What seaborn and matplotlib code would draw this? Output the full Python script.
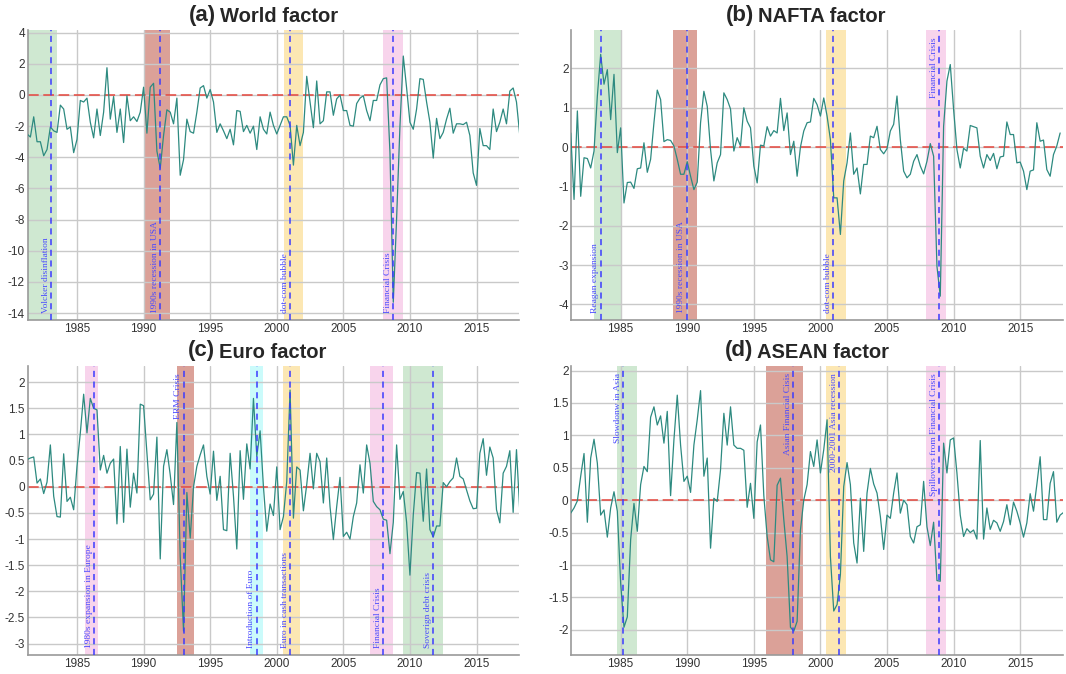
import pandas as pd
import matplotlib.pyplot as plt
import matplotlib.transforms as mtransforms
import seaborn as sns

#-------------------------------------------------------------------------------------
# Quarterly factor estimates, first quarter 1981Q2
first_quarter = "1981Q2"

world = [-2.5, -2.7, -1.4, -3.0, -3.0, -3.9, -3.5, -2.05, -2.3, -2.4,
         -0.65, -0.9, -2.2, -2.05, -3.7, -2.85, -0.35, -0.45, -0.2, -1.75,
         -2.75, -0.9, -2.6, -1.1, 1.75, -1.55, -0.1, -2.4, -0.9, -3.05,
         -0.05, -1.65, -1.4, -1.7, -1.1, 0.5, -2.45, 0.5, 0.75, -3.6,
         -4.7, -2.6, -0.95, -1.1, -1.85, -0.2, -5.15, -4.15, -1.55, -2.35,
         -2.45, -1.1, 0.45, 0.6, -0.2, 0.35, -0.45, -2.4, -1.85, -2.3,
         -2.8, -2.2, -3.2, -1.0, -1.05, -2.35, -1.95, -2.45, -2.0, -3.5,
         -1.4, -2.2, -2.5, -1.1, -1.95, -2.5, -1.95, -1.4, -1.4, -1.95,
         -4.5, -1.95, -3.25, -2.4, 1.2, -0.45, -2.1, 0.9, -1.85, -1.65,
         0.2, 0.2, -1.3, -0.25, 0.0, -1.0, -1.0, -1.95, -2.0, -0.55,
         -0.2, -0.05, -1.0, -1.65, -0.35, -0.35, 0.65, 1.05, 1.1, -3.7,
         -13.3, -7.9, -2.0, 2.5, 0.45, -1.75, -2.2, -0.9, 1.05, 1.0,
         -0.45, -1.75, -4.05, -1.5, -2.8, -2.4, -1.55, -0.85, -2.45, -1.85,
         -1.85, -1.9, -1.75, -2.6, -5.0, -5.8, -2.15, -3.25, -3.25, -3.5,
         -0.9, -2.35, -1.75, -0.9, -1.85, 0.25, 0.45, -0.45, -2.6]

nafta = [0.36, -1.33, 0.92, -1.25, -0.27, -0.29, -0.53, -0.1, 1.3, 2.36,
         1.6, 1.97, 0.7, 1.85, -0.14, 0.49, -1.42, -0.9, -0.89, -1.05,
         -0.55, -0.53, 0.11, -0.64, -0.31, 0.62, 1.45, 1.21, 0.14, 0.19,
         0.17, 0.03, -0.31, -0.69, -0.69, -0.37, -0.74, -1.08, -0.89, 0.62,
         1.42, 1.04, -0.06, -0.86, -0.4, -0.19, 1.38, 1.21, 0.97, -0.1,
         0.24, 0.03, 1.0, 0.66, 0.49, -0.48, -0.91, 0.05, 0.03, 0.52,
         0.28, 0.42, 0.36, 1.24, 0.42, 0.87, -0.19, 0.15, -0.74, 0.0,
         0.41, 0.62, 0.64, 1.24, 1.08, 0.79, 1.25, 0.79, 0.19, -1.29,
         -1.29, -2.22, -0.86, -0.4, 0.36, -0.69, -0.53, -1.19, -0.44, -0.44,
         0.28, 0.24, 0.53, -0.06, -0.17, -0.04, 0.41, 0.58, 1.3, 0.19,
         -0.61, -0.78, -0.69, -0.36, -0.19, -0.48, -0.68, -0.36, 0.09, -0.23,
         -3.03, -3.79, 0.53, 1.68, 2.1, 0.96, -0.06, -0.53, -0.03, -0.1,
         0.55, 0.52, 0.49, -0.23, -0.53, -0.19, -0.34, -0.16, -0.55, -0.25,
         -0.23, 0.64, 0.32, 0.32, -0.4, -0.38, -0.61, -1.08, -0.61, -0.58,
         0.62, 0.15, 0.18, -0.57, -0.74, -0.19, 0.03, 0.36]

euro = [0.52, 0.55, 0.57, 0.07, 0.15, -0.13, 0.09, 0.8, -0.18, -0.57,
        -0.58, 0.63, -0.28, -0.2, -0.44, 0.39, 1.03, 1.77, 1.03, 1.69,
        1.5, 1.47, 0.32, 0.6, 0.26, 0.45, 0.53, -0.71, 0.77, -0.68,
        0.72, -0.39, 0.26, -0.12, 1.58, 1.55, 0.64, -0.25, -0.14, 0.95,
        -1.38, 0.39, 0.71, 0.23, -0.34, 1.23, -1.33, -2.76, -0.11, -0.98,
        0.0, 0.39, 0.61, 0.8, 0.2, -0.14, 0.68, -0.26, 0.2, -0.82,
        -0.84, 0.64, -0.18, -1.19, 0.69, -0.24, 0.82, 0.34, 1.69, 0.58,
        1.07, 0.0, -0.85, -0.33, -0.55, 0.38, -0.82, -0.57, 0.1, 1.85,
        -0.6, 0.38, 0.32, -0.46, 0.04, 0.64, -0.04, 0.64, 0.48, -0.31,
        0.55, -0.38, -1.01, -0.38, 0.18, -0.95, -0.87, -1.0, -0.57, -0.31,
        0.42, -0.12, 0.8, 0.45, -0.28, -0.38, -0.44, -0.62, -0.64, -1.28,
        -0.68, 0.8, -0.24, -0.09, -0.68, -1.69, -0.54, 0.27, 0.26, -0.66,
        0.34, -0.82, -0.96, -0.75, -0.75, 0.08, 0.0, 0.1, 0.17, 0.55,
        0.2, 0.15, -0.06, -0.27, -0.42, -0.41, 0.64, 0.92, 0.22, 0.76,
        0.55, -0.44, -0.69, 0.26, 0.39, 0.69, -0.49, 0.71, -0.47]

asean = [-0.2, -0.12, -0.01, 0.37, 0.72, -0.34, 0.65, 0.94, 0.57, -0.23,
         -0.15, -0.57, -0.12, 0.13, -0.17, -1.28, -1.96, -1.8, -0.61, -0.05,
         -0.48, 0.24, 0.52, 0.44, 1.28, 1.44, 1.16, 1.3, 0.88, 1.37,
         0.07, 0.93, 1.62, 0.85, 0.29, 0.37, 0.12, 0.85, 1.24, 1.69,
         0.37, 0.65, -0.74, 0.03, -0.02, 0.47, 1.34, 0.85, 1.44, 0.85,
         0.8, 0.8, 0.77, -0.11, 0.26, -0.28, 0.9, 1.16, 0.07, -0.56,
         -0.92, -0.95, 0.23, 0.34, -0.3, -0.87, -1.96, -2.02, -1.87, -0.46,
         0.0, 0.24, 0.75, 0.52, 0.93, 0.42, 0.78, 1.24, -0.87, -1.71,
         -1.61, -1.15, 0.21, 0.58, 0.24, -0.66, -0.97, 0.03, -0.79, 0.11,
         0.49, 0.25, 0.11, -0.25, -0.76, -0.23, -0.28, 0.11, 0.42, -0.2,
         0.0, -0.07, -0.56, -0.66, -0.41, -0.38, 0.29, -0.41, -0.7, -0.34,
         -1.24, -1.25, 0.88, 0.42, 0.93, 0.96, 0.42, -0.23, -0.56, -0.44,
         -0.5, -0.46, -0.6, 0.92, -0.6, -0.12, -0.45, -0.31, -0.35, -0.48,
         -0.33, -0.07, -0.38, -0.03, -0.17, -0.35, -0.57, -0.35, 0.1, -0.17,
         0.24, 0.67, -0.3, -0.3, 0.26, 0.44, -0.34, -0.23, -0.19]

# Events: (shade start, shade end, dashed marker, label, shade, label at)
world_events = [(1981.0, 1983.5, 1983.05, "Volcker disinflation", "green", "bottom"),
                (1990.0, 1992.0, 1991.25, "1990s recession in USA", "red", "bottom"),
                (2000.55, 2002.0, 2001.0, "dot-com bubble", "yellow", "bottom"),
                (2008.0, 2009.5, 2008.75, "Financial Crisis", "pink", "bottom")]

nafta_events = [(1983.0, 1985.0, 1983.5, "Reagan expansion", "green", "bottom"),
                (1988.95, 1990.7, 1989.95, "1990s recession in USA", "red", "bottom"),
                (2000.45, 2001.9, 2000.95, "dot-com bubble", "yellow", "bottom"),
                (2007.95, 2009.4, 2008.9, "Financial Crisis", "pink", "top")]

euro_events = [(1985.6, 1986.55, 1986.3, "1980s expansion in Europe", "pink", "bottom"),
               (1992.5, 1993.75, 1993.0, "ERM Crisis", "red", "top"),
               (1998.0, 1999.0, 1998.5, "Introduction of Euro", "cyan", "bottom"),
               (2000.5, 2001.75, 2001.0, "Euro in cash transactions", "yellow", "bottom"),
               (2007.0, 2008.7, 2008.0, "Financial Crisis", "pink", "bottom"),
               (2009.5, 2012.5, 2011.75, "Soverign debt crisis", "green", "bottom")]

asean_events = [(1984.75, 1986.2, 1985.2, "Slowdonw in Asia", "green", "top"),
                (1995.95, 1998.7, 1997.95, "Asian Financial Cisis", "red", "top"),
                (2000.45, 2001.9, 2001.4, "2000-2001 Asia recession", "yellow", "top"),
                (2007.95, 2009.4, 2008.9, "Spillovers from Financial Crisis", "pink", "top")]

shade_colours = {"green": "#cfe8d1", "red": "#dba198", "yellow": "#fce7b3",
                 "pink": "#f8d4ec", "cyan": "#cbfbfb"}

#-------------------------------------------------------------------------------------
sns.set_theme(style="whitegrid")
plt.rcParams["font.family"] = ["Liberation Sans", "DejaVu Sans"]
plt.rcParams["axes.unicode_minus"] = False


def draw_panel(ax, values, events, yticks, ylim, letter, name, split):
    q = pd.period_range(first_quarter, periods=len(values), freq="Q")
    df = pd.DataFrame({"year": q.year + (q.quarter - 1) / 4, "factor": values})

    trans = mtransforms.blended_transform_factory(ax.transData, ax.transAxes)
    for start, end, mark, label, shade, where in events:
        ax.axvspan(start, end, color=shade_colours[shade], lw=0, zorder=0.2)
        ax.axvline(mark, color="#3b3bff", lw=1.1, dashes=(4, 3), zorder=4)
        y = 0.025 if where == "bottom" else 0.975
        ax.annotate(label, xy=(mark, y), xycoords=trans, xytext=(-1, 0),
                    textcoords="offset points", rotation=90, ha="right",
                    va="bottom" if where == "bottom" else "top",
                    fontsize=6.8, color="#4a4aff", family="Liberation Serif",
                    zorder=5)

    ax.axhline(0, color="#e5463d", lw=1.1, dashes=(7, 3), zorder=2)
    sns.lineplot(data=df, x="year", y="factor", ax=ax, color="#2d8a80",
                 lw=0.9, zorder=3)

    ax.set_xlim(1981.3, 2018.2)
    ax.set_xticks(range(1985, 2020, 5))
    ax.set_ylim(*ylim)
    ax.set_yticks(yticks)
    ax.set_yticklabels([f"{t:g}" for t in yticks])
    ax.set_xlabel("")
    ax.set_ylabel("")
    ax.grid(True, color="#c9c9c9", lw=1.0)
    ax.tick_params(length=0, pad=2, labelsize=8.5, labelcolor="#333333")
    for side in ["top", "right"]:
        ax.spines[side].set_visible(False)
    for side in ["left", "bottom"]:
        ax.spines[side].set_color("#9a9a9a")
        ax.spines[side].set_linewidth(1.2)

    # Title: larger panel letter, then the factor name
    ax.text(split, 1.052, letter, transform=ax.transAxes, ha="right",
            va="center", fontsize=16, fontweight="bold")
    ax.text(split + 0.008, 1.048, name, transform=ax.transAxes, ha="left",
            va="center", fontsize=14.5, fontweight="bold")


fig = plt.figure(figsize=(10.66, 6.74), dpi=100)
ax_a = fig.add_axes([0.026, 0.525, 0.461, 0.430])
ax_b = fig.add_axes([0.536, 0.525, 0.461, 0.430])
ax_c = fig.add_axes([0.026, 0.028, 0.461, 0.429])
ax_d = fig.add_axes([0.536, 0.028, 0.461, 0.429])

draw_panel(ax_a, world, world_events, list(range(-14, 5, 2)), (-14.45, 4.15),
           "(a)", "World factor", 0.383)
draw_panel(ax_b, nafta, nafta_events, list(range(-4, 3)), (-4.4, 2.97),
           "(b)", "NAFTA factor", 0.372)
draw_panel(ax_c, euro, euro_events, [x / 2 for x in range(-6, 5)], (-3.22, 2.31),
           "(c)", "Euro factor", 0.381)
draw_panel(ax_d, asean, asean_events, [x / 2 for x in range(-4, 5)], (-2.39, 2.07),
           "(d)", "ASEAN factor", 0.370)

plt.savefig("out.png", dpi=100)
